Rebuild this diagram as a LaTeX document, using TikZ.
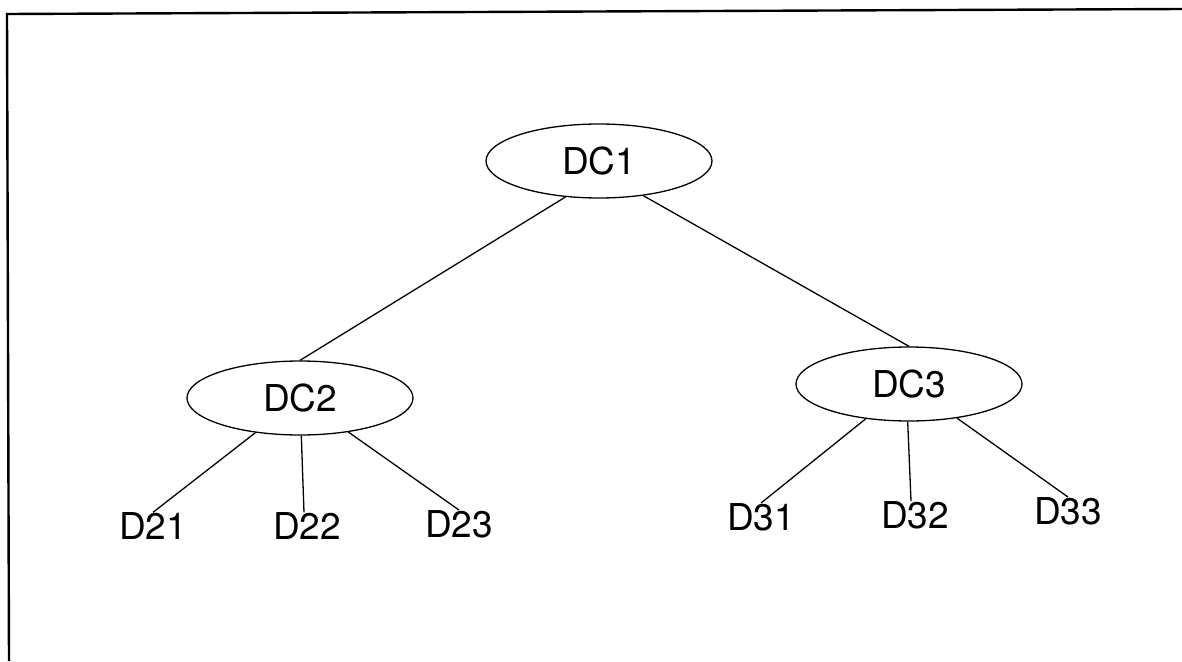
\documentclass[tikz,border=0pt]{standalone}
\usepackage{fontspec}
\setmainfont{TeX Gyre Heros}
\usetikzlibrary{shapes.geometric}

\tikzset{
  dcnode/.style={ellipse, draw, line width=1.3pt, minimum width=226pt,
    minimum height=74pt, inner sep=0pt, font=\fontsize{37}{41}\selectfont},
  leaf/.style={inner sep=0pt, font=\fontsize{37}{41}\selectfont},
  link/.style={line width=1.3pt},
  frameline/.style={line width=2.4pt}
}

\begin{document}
\begin{tikzpicture}[x=1pt, y=-1pt]
  \useasboundingbox (0,0) rectangle (1182,661);

  % partial frame along the top and left edges
  \coordinate (fTL) at (7,14);
  \coordinate (fTR) at (1182,9);
  \coordinate (fBL) at (9,661);
  \draw[frameline] (fTR) -- (fTL) -- (fBL);

  % tree nodes
  \node[dcnode] (DC1) at (599,161) {DC1};
  \node[dcnode] (DC2) at (300,398) {DC2};
  \node[dcnode] (DC3) at (909,384) {DC3};

  \node[leaf] (D21) at (153,526) {D21};
  \node[leaf] (D22) at (307,526) {D22};
  \node[leaf] (D23) at (459,524) {D23};
  \node[leaf] (D31) at (761,517) {D31};
  \node[leaf] (D32) at (915,515) {D32};
  \node[leaf] (D33) at (1068,511) {D33};

  % links
  \draw[link] (DC1.227) -- (DC2.north);
  \draw[link] (DC1.322) -- (DC3.north);
  \draw[link] (DC2) -- (D21.north);
  \draw[link] (DC2.272) -- ([xshift=-3pt]D22.north);
  \draw[link] (DC2) -- (D23.north);
  \draw[link] (DC3) -- (D31.north);
  \draw[link] (DC3.268) -- ([xshift=-4pt]D32.north);
  \draw[link] (DC3) -- (D33.north);
\end{tikzpicture}
\end{document}
